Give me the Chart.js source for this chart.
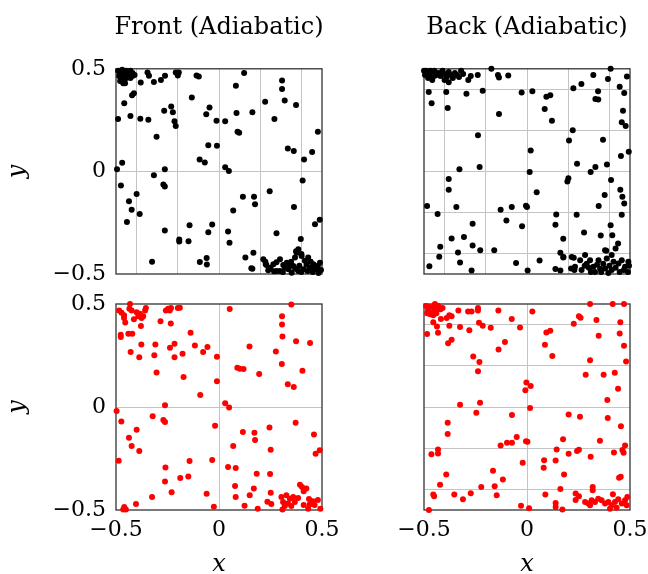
<!DOCTYPE html>
<html>
<head>
<meta charset="utf-8">
<script src="https://cdn.jsdelivr.net/npm/chart.js@4.4.1/dist/chart.umd.min.js"></script>
<style>
  html, body { margin: 0; padding: 0; background: #fff; overflow: hidden; width: 648px; height: 574px; }
  canvas { position: absolute; }
</style>
</head>
<body>
<canvas id="frontTop" width="438" height="298" style="left:0;top:0"></canvas>
<canvas id="backTop" width="242" height="298" style="left:406px;top:0"></canvas>
<canvas id="frontBottom" width="348" height="294" style="left:0;top:280px"></canvas>
<canvas id="backBottom" width="276" height="294" style="left:384px;top:280px"></canvas>
<script>
// tick positions (grid) and labelled ticks
const fineTicks = [-0.5, -0.4, -0.2, 0, 0.2, 0.4, 0.5];
const coarseTicks = [-0.5, 0, 0.5];
const labelTicks = [-0.5, 0, 0.5];

const titles = ["Front (Adiabatic)", "Back (Adiabatic)"];

// top row, black markers
const frontTop = [
  [-0.49,0.49],[-0.48,0.48],[-0.47,0.495],[-0.46,0.48],[-0.45,0.49],[-0.44,0.475],[-0.43,0.49],[-0.42,0.48],
  [-0.485,0.465],[-0.47,0.47],[-0.455,0.465],[-0.44,0.46],[-0.42,0.465],[-0.475,0.45],[-0.46,0.445],[-0.45,0.455],
  [-0.43,0.455],[-0.465,0.43],[-0.41,0.47],[-0.48,0.44],
  [-0.456,0.43],[-0.38,0.433],[-0.347,0.482],[-0.34,0.466],[-0.316,0.436],[-0.282,0.446],[-0.262,0.466],[-0.21,0.482],
  [-0.195,0.482],[-0.2,0.467],[-0.109,0.467],[-0.098,0.462],[0.122,0.479],[0.082,0.417],[0.306,0.443],[0.306,0.402],
  [0.319,0.345],[0.374,0.324],[0.224,0.34],[-0.413,0.381],[-0.422,0.371],[-0.46,0.332],[-0.132,0.36],[-0.49,0.255],
  [-0.43,0.27],[-0.382,0.257],[-0.343,0.252],[-0.266,0.296],[-0.232,0.316],[-0.224,0.288],[-0.216,0.244],[-0.21,0.221],
  [-0.303,0.169],[-0.046,0.311],[-0.062,0.278],[-0.012,0.247],[0.03,0.244],[0.085,0.285],[0.162,0.288],[0.269,0.255],
  [0.09,0.193],[0.098,0.188],[0.48,0.193],[-0.052,0.128],[-0.01,0.125],[0.334,0.112],[0.363,0.099],[0.452,0.095],
  [0.413,0.058],[-0.094,0.058],[-0.069,0.043],[-0.47,0.042],[-0.495,0.011],[-0.263,0.011],[0.03,0.02],[0.048,0.002],
  [-0.316,-0.019],[-0.476,-0.069],[-0.27,-0.064],[-0.263,-0.073],[0.406,-0.044],[0.246,-0.097],[-0.4,-0.11],[0.116,-0.123],
  [0.17,-0.123],[0.175,-0.16],[-0.437,-0.146],[-0.424,-0.187],[-0.385,-0.208],[-0.447,-0.247],[0.069,-0.19],[0.364,-0.174],
  [0.489,-0.236],[0.466,-0.257],[-0.263,-0.288],[-0.143,-0.263],[-0.193,-0.332],[-0.193,-0.342],[-0.148,-0.34],[-0.052,-0.296],
  [-0.033,-0.259],[0.044,-0.293],[0.051,-0.348],[0.279,-0.301],[0.397,-0.329],[-0.325,-0.44],[-0.093,-0.441],[-0.06,-0.422],
  [-0.059,-0.454],[0.167,-0.397],[0.128,-0.42],[0.157,-0.472],[0.162,-0.475],[0.374,-0.389],[0.4,-0.402],
  [0.215,-0.428],[0.227,-0.452],[0.239,-0.482],[0.264,-0.452],[0.28,-0.485],[0.296,-0.428],[0.312,-0.456],[0.329,-0.445],
  [0.337,-0.477],[0.361,-0.461],[0.369,-0.42],[0.377,-0.396],[0.385,-0.379],[0.401,-0.412],[0.417,-0.436],[0.433,-0.42],
  [0.442,-0.469],[0.458,-0.452],[0.474,-0.477],[0.49,-0.445],[0.483,-0.495],[0.385,-0.485],[0.41,-0.477],[0.353,-0.494],
  [0.296,-0.485],[0.225,-0.44],[0.23,-0.456],[0.267,-0.487],[0.279,-0.443],[0.32,-0.47],[0.345,-0.46],[0.39,-0.46],
  [0.425,-0.455],[0.445,-0.44],[0.465,-0.47],[0.48,-0.46],[0.495,-0.48],[0.4,-0.49],[0.43,-0.485],[0.455,-0.49],
  [0.37,-0.475],[0.31,-0.49],[0.25,-0.47],[0.35,-0.44]
];

const backTop = [
  [-0.49,0.49],[-0.48,0.475],[-0.47,0.49],[-0.46,0.48],[-0.45,0.49],[-0.44,0.47],[-0.47,0.46],[-0.48,0.455],
  [-0.46,0.445],[-0.45,0.465],[-0.43,0.48],[-0.42,0.465],[-0.41,0.49],[-0.4,0.475],[-0.39,0.46],[-0.38,0.485],
  [-0.37,0.47],[-0.36,0.455],[-0.35,0.48],[-0.34,0.47],[-0.33,0.46],[-0.32,0.49],[-0.31,0.475],[-0.4,0.445],
  [-0.38,0.435],[-0.5,0.49],[-0.495,0.47],
  [-0.173,0.5],[-0.141,0.47],[-0.136,0.457],[-0.091,0.467],[-0.239,0.47],[-0.273,0.465],[-0.285,0.446],[-0.477,0.387],
  [-0.392,0.387],[-0.294,0.379],[-0.215,0.393],[-0.463,0.332],[-0.385,0.309],[-0.136,0.28],[-0.026,0.385],[0.026,0.39],
  [0.094,0.364],[0.113,0.371],[0.086,0.304],[0.121,0.247],[0.225,0.405],[0.264,0.426],[0.322,0.47],[0.406,0.5],
  [0.393,0.45],[0.485,0.462],[0.45,0.413],[0.472,0.382],[0.345,0.39],[0.332,0.353],[0.346,0.35],[0.466,0.296],
  [0.46,0.239],[0.479,0.221],[0.222,0.2],[0.204,0.151],[0.369,0.154],[-0.238,0.176],[0.018,0.102],[0.456,0.075],
  [0.494,0.096],[0.243,0.037],[0.332,0.021],[0.309,-0.003],[0.388,0.034],[-0.328,0.011],[-0.23,0.021],[0.013,-0.003],
  [-0.38,-0.037],[-0.38,-0.089],[0.201,-0.033],[0.196,-0.049],[0.408,-0.042],[0.453,-0.089],[0.463,-0.124],[0.472,-0.156],
  [0.377,-0.115],[0.348,-0.169],[0.047,-0.102],[-0.485,-0.169],[-0.343,-0.174],[-0.128,-0.187],[-0.074,-0.174],[-0.005,-0.167],
  [0.0,-0.174],[-0.434,-0.208],[-0.1,-0.239],[-0.264,-0.255],[-0.024,-0.267],[0.142,-0.21],[0.138,-0.26],[0.241,-0.211],
  [0.46,-0.211],[0.406,-0.262],[0.414,-0.311],[0.358,-0.312],[0.277,-0.298],[0.176,-0.328],[-0.366,-0.327],[-0.306,-0.32],
  [-0.264,-0.361],[-0.227,-0.384],[-0.159,-0.384],[-0.421,-0.367],[-0.335,-0.395],[-0.426,-0.416],[-0.325,-0.444],[-0.474,-0.462],
  [-0.269,-0.483],[-0.053,-0.446],[0.003,-0.483],[0.061,-0.434],[0.162,-0.397],[0.176,-0.42],[0.442,-0.351],[0.43,-0.376],
  [0.385,-0.387],[0.138,-0.476],[0.162,-0.483],[0.214,-0.473],[0.23,-0.481],[0.227,-0.421],
  [0.177,-0.417],[0.217,-0.417],[0.233,-0.465],[0.282,-0.408],[0.29,-0.45],[0.306,-0.433],[0.322,-0.465],[0.347,-0.433],
  [0.355,-0.475],[0.379,-0.384],[0.387,-0.424],[0.411,-0.408],[0.444,-0.449],[0.46,-0.433],[0.476,-0.465],[0.492,-0.44],
  [0.411,-0.481],[0.379,-0.473],[0.33,-0.49],[0.265,-0.481],[0.258,-0.433],[0.49,-0.49],[0.45,-0.49],[0.3,-0.47],
  [0.34,-0.455],[0.37,-0.45],[0.4,-0.46],[0.42,-0.44],[0.43,-0.47],[0.47,-0.48],[0.495,-0.46],[0.36,-0.49],
  [0.28,-0.46],[0.395,-0.495],[0.31,-0.49]
];

// bottom row, red markers
const frontBottom = [
  [-0.432,0.5],[-0.435,0.477],[-0.424,0.469],[-0.485,0.469],[-0.473,0.458],[-0.461,0.445],[-0.461,0.432],[-0.4,0.46],
  [-0.384,0.453],[-0.368,0.441],[-0.376,0.432],[-0.392,0.441],[-0.355,0.48],[-0.359,0.469],[-0.413,0.426],[-0.455,0.41],
  [-0.379,0.393],[-0.284,0.416],[-0.258,0.469],[-0.247,0.477],[-0.233,0.48],[-0.239,0.469],[-0.2,0.48],[-0.19,0.482],
  [-0.234,0.405],[-0.477,0.351],[-0.477,0.34],[-0.44,0.356],[-0.421,0.356],[-0.138,0.361],[-0.377,0.304],[-0.309,0.303],
  [-0.216,0.307],[-0.238,0.288],[-0.117,0.299],[-0.056,0.291],[-0.077,0.267],[-0.177,0.259],[-0.216,0.241],[-0.314,0.251],
  [-0.387,0.241],[-0.429,0.267],[-0.01,0.244],[-0.303,0.167],[-0.172,0.146],[-0.01,0.125],[-0.091,0.058],[-0.262,0.008],
  [0.052,0.476],[0.351,0.498],[0.306,0.44],[0.306,0.4],[0.308,0.342],[0.374,0.319],[0.442,0.311],[0.148,0.294],
  [0.276,0.269],[0.305,0.209],[0.089,0.191],[0.101,0.186],[0.119,0.184],[0.195,0.16],[0.405,0.176],[0.334,0.11],
  [0.363,0.097],[0.03,0.018],[0.049,-0.002],[-0.497,-0.019],[-0.474,-0.07],[-0.322,-0.045],[-0.27,-0.063],[-0.262,-0.073],
  [-0.019,-0.091],[-0.4,-0.11],[-0.437,-0.149],[-0.424,-0.189],[-0.387,-0.214],[-0.487,-0.261],[0.372,-0.076],[0.245,-0.099],
  [0.116,-0.121],[0.172,-0.125],[0.175,-0.16],[0.461,-0.134],[0.069,-0.189],[0.251,-0.207],[0.489,-0.21],[0.469,-0.227],
  [-0.143,-0.262],[-0.033,-0.257],[-0.26,-0.294],[0.044,-0.291],[0.081,-0.296],[0.183,-0.324],[0.248,-0.325],[-0.262,-0.362],
  [-0.188,-0.345],[-0.149,-0.337],[0.078,-0.383],[0.169,-0.396],[-0.23,-0.414],[-0.06,-0.421],[-0.325,-0.437],[-0.403,-0.471],
  [-0.46,-0.485],[-0.465,-0.497],[-0.452,-0.497],[-0.025,-0.484],[0.081,-0.437],[0.149,-0.429],[0.124,-0.479],[0.188,-0.494],
  [0.251,-0.416],[0.254,-0.471],[0.235,-0.46],[0.308,-0.498],[0.393,-0.377],[0.403,-0.388],[0.424,-0.396],[0.411,-0.409],
  [0.303,-0.437],[0.327,-0.429],[0.344,-0.445],[0.36,-0.437],[0.384,-0.442],[0.311,-0.461],[0.335,-0.469],[0.351,-0.48],
  [0.319,-0.48],[0.368,-0.461],[0.437,-0.447],[0.456,-0.457],[0.48,-0.452],[0.44,-0.473],[0.464,-0.476],[0.433,-0.494],
  [0.411,-0.476],[0.492,-0.494]
];

const backBottom = [
  [-0.49,0.49],[-0.48,0.47],[-0.47,0.485],[-0.46,0.46],[-0.45,0.48],[-0.44,0.47],[-0.43,0.49],[-0.42,0.475],
  [-0.41,0.48],[-0.47,0.45],[-0.485,0.455],[-0.455,0.445],[-0.44,0.455],[-0.447,0.5],
  [-0.418,0.427],[-0.455,0.412],[-0.437,0.391],[-0.485,0.354],[-0.432,0.36],[-0.39,0.432],[-0.377,0.445],[-0.366,0.44],
  [-0.377,0.394],[-0.333,0.469],[-0.286,0.464],[-0.269,0.464],[-0.238,0.481],[-0.238,0.469],[-0.233,0.409],[-0.215,0.394],
  [-0.176,0.385],[-0.325,0.388],[-0.28,0.373],[-0.366,0.326],[-0.383,0.31],[-0.139,0.469],[-0.074,0.427],[-0.107,0.315],
  [-0.138,0.279],[-0.034,0.386],[0.026,0.464],[0.094,0.362],[0.113,0.37],[0.087,0.302],[0.123,0.247],[-0.261,0.245],
  [-0.231,0.218],[-0.238,0.174],[0.306,0.5],[0.416,0.5],[0.471,0.5],[0.252,0.44],[0.26,0.433],[0.337,0.422],
  [0.227,0.404],[0.453,0.412],[0.45,0.357],[0.348,0.346],[0.471,0.297],[0.306,0.227],[0.481,0.221],[0.285,0.156],
  [0.372,0.157],[0.426,0.166],[0.442,0.089],[-0.003,0.119],[0.018,0.102],[-0.008,0.081],[0.39,0.034],[-0.325,0.011],
  [-0.228,0.021],[-0.246,-0.028],[0.015,-0.005],[-0.073,-0.039],[-0.385,-0.076],[-0.385,-0.131],[0.202,-0.036],[0.257,-0.047],
  [0.392,-0.054],[0.456,-0.094],[0.354,-0.164],[0.175,-0.156],[-0.05,-0.146],[-0.005,-0.166],[0.002,-0.169],[-0.073,-0.174],
  [-0.097,-0.174],[-0.128,-0.187],[-0.432,-0.206],[-0.432,-0.226],[-0.464,-0.229],[0.144,-0.206],[0.202,-0.227],[0.243,-0.213],
  [0.252,-0.208],[0.309,-0.242],[0.422,-0.221],[0.463,-0.209],[0.469,-0.222],[0.476,-0.187],[0.083,-0.258],[0.139,-0.26],
  [-0.021,-0.271],[0.081,-0.295],[0.18,-0.328],[-0.165,-0.31],[-0.117,-0.352],[-0.392,-0.328],[-0.422,-0.378],[-0.222,-0.388],
  [-0.157,-0.385],[0.447,-0.343],[0.455,-0.339],[0.319,-0.388],[0.319,-0.404],[0.162,-0.398],[-0.455,-0.425],[-0.451,-0.433],
  [-0.353,-0.425],[-0.311,-0.448],[-0.273,-0.419],[-0.147,-0.429],[0.089,-0.425],[-0.029,-0.479],[0.01,-0.492],[-0.476,-0.5],
  [0.139,-0.466],[0.139,-0.485],[0.172,-0.498],[0.236,-0.42],[0.236,-0.451],[0.252,-0.433],[0.417,-0.424],
  [0.282,-0.461],[0.298,-0.469],[0.314,-0.453],[0.33,-0.461],[0.346,-0.445],[0.362,-0.453],[0.379,-0.469],[0.395,-0.461],
  [0.411,-0.477],[0.427,-0.461],[0.443,-0.448],[0.46,-0.469],[0.476,-0.453],[0.487,-0.437],[0.484,-0.477],[0.435,-0.489],
  [0.306,-0.477],[0.403,-0.494]
];

Chart.defaults.font.family = "'DejaVu Serif', serif";
Chart.defaults.color = '#000';

// box around the plot area, drawn under the markers
const framePlugin = {
  id: 'frame',
  beforeDatasetsDraw(chart) {
    const { ctx, chartArea: a } = chart;
    ctx.save();
    ctx.strokeStyle = '#333';
    ctx.lineWidth = 1.3;
    ctx.strokeRect(a.left, a.top, a.right - a.left, a.bottom - a.top);
    ctx.restore();
  }
};

function fmt(v) {
  if (v === 0) return '0';
  return (v < 0 ? '\u2212' : '') + Math.abs(v);
}

function makeAxis(ticks, showLabels, title, size, horizontal) {
  return {
    type: 'linear',
    min: -0.5,
    max: 0.5,
    afterBuildTicks: (s) => { s.ticks = ticks.map((v) => ({ value: v })); },
    afterFit: (s) => { if (horizontal) s.height = size; else s.width = size; },
    border: { display: false },
    grid: {
      drawTicks: false,
      lineWidth: 1,
      color: (ctx) => (ctx.tick && Math.abs(ctx.tick.value) === 0.5 ? 'rgba(0,0,0,0)' : '#c4c4c4'),
    },
    ticks: {
      display: showLabels,
      autoSkip: false,
      maxRotation: 0,
      padding: horizontal ? 7 : 10,
      font: { size: 22 },
      color: '#000',
      callback: (v) => (labelTicks.includes(v) ? fmt(v) : ''),
    },
    title: {
      display: !!title,
      text: title || '',
      color: '#000',
      font: { size: 24, style: 'italic', lineHeight: horizontal ? 0.8 : 1 },
      padding: { top: 6, bottom: 0 },
    },
  };
}

// empty axis on the right that only reserves space, so the title centres over the plot
function spacerAxis(size) {
  return {
    type: 'linear',
    position: 'right',
    afterFit: (s) => { s.width = size; },
    border: { display: false },
    grid: { display: false, drawTicks: false },
    ticks: { display: false },
  };
}

function makePanel(id, pts, color, o) {
  return new Chart(document.getElementById(id), {
    type: 'scatter',
    data: {
      datasets: [{
        data: pts.map((p) => ({ x: p[0], y: p[1] })),
        backgroundColor: color,
        borderWidth: 0,
        pointRadius: 3,
        clip: false,
      }],
    },
    options: {
      responsive: false,
      animation: false,
      events: [],
      layout: { padding: { left: 0, top: o.padTop, right: 0, bottom: 0 } },
      plugins: {
        legend: { display: false },
        tooltip: { enabled: false },
        title: {
          display: !!o.title,
          text: o.title || '',
          color: '#000',
          font: { size: 24, weight: 'normal' },
          padding: { top: 13, bottom: 27 },
        },
      },
      scales: {
        x: makeAxis(o.xTicks, o.xLabels, o.xTitle, o.xSize, true),
        y: makeAxis(o.yTicks, o.yLabels, o.yTitle, o.ySize, false),
        r: spacerAxis(o.rightSize),
      },
    },
    plugins: [framePlugin],
  });
}

makePanel('frontTop', frontTop, '#000000', {
  title: titles[0], padTop: 0, rightSize: 116,
  xTicks: fineTicks, xLabels: false, xSize: 24,
  yTicks: coarseTicks, yLabels: true, yTitle: 'y', ySize: 116,
});
makePanel('backTop', backTop, '#000000', {
  title: titles[1], padTop: 0, rightSize: 18,
  xTicks: fineTicks, xLabels: false, xSize: 24,
  yTicks: fineTicks, yLabels: false, ySize: 18,
});
makePanel('frontBottom', frontBottom, '#ff0000', {
  padTop: 24, rightSize: 26,
  xTicks: coarseTicks, xLabels: true, xTitle: 'x', xSize: 64,
  yTicks: coarseTicks, yLabels: true, yTitle: 'y', ySize: 116,
});
makePanel('backBottom', backBottom, '#ff0000', {
  padTop: 24, rightSize: 30,
  xTicks: coarseTicks, xLabels: true, xTitle: 'x', xSize: 64,
  yTicks: fineTicks, yLabels: false, ySize: 40,
});
</script>
</body>
</html>
